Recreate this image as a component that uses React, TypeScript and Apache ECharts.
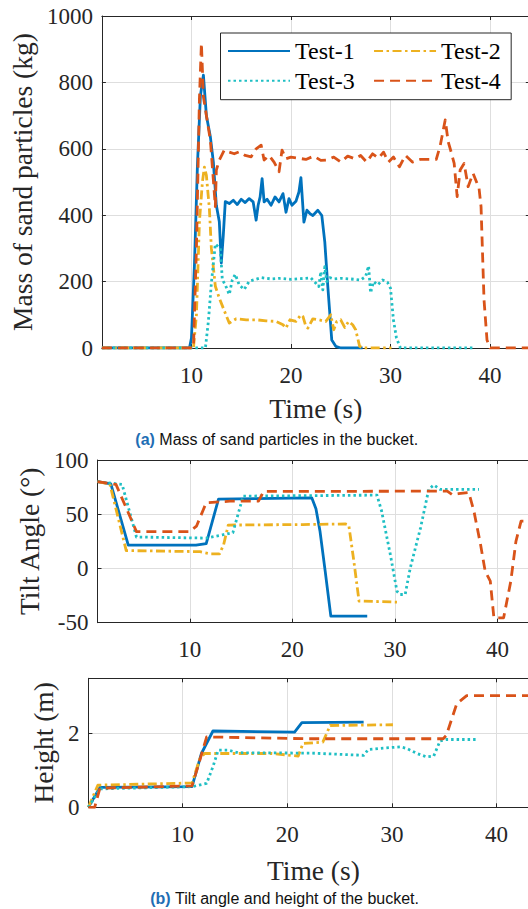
import React, { useEffect, useRef } from "react";
import * as echarts from "echarts";

// ---------- data ----------
const TIME_TICKS = [10, 20, 30, 40];
const MASS_TICKS = [0, 200, 400, 600, 800, 1000];
const TILT_TICKS = [-50, 0, 50, 100];
const HEIGHT_TICKS = [0, 2];
const SERIES_NAMES = ["Test-1", "Test-2", "Test-3", "Test-4"];

// (a) mass of sand particles (kg)
const M1_T = [1, 9.8, 10.0, 10.3, 10.6, 10.9, 11.2, 11.5, 11.9, 12.2, 12.5, 12.8, 13.0, 13.2, 13.4, 13.8, 14.2, 14.6, 15.0, 15.4, 15.8, 16.2, 16.5, 16.7, 16.9, 17.1, 17.3, 17.6, 18.0, 18.4, 18.8, 19.2, 19.5, 19.8, 20.1, 20.5, 20.8, 21.0, 21.3, 21.6, 21.9, 22.2, 22.7, 23.1, 23.4, 23.7, 24.1, 24.5, 25.0, 27.2];
const M1_V = [0, 0, 30, 250, 550, 760, 822, 700, 636, 560, 430, 380, 256, 340, 441, 435, 445, 432, 448, 438, 450, 440, 385, 430, 455, 510, 440, 448, 430, 455, 440, 465, 409, 450, 430, 442, 470, 513, 379, 415, 405, 399, 415, 399, 319, 186, 24, 5, 0, 0];

const M2_T = [1, 10.2, 10.5, 10.8, 11.1, 11.3, 11.5, 11.8, 12.0, 12.4, 12.8, 13.2, 13.8, 14.5, 15.5, 16.5, 17.5, 18.5, 19.2, 19.5, 19.9, 20.5, 21.0, 21.2, 21.5, 21.7, 22.2, 22.8, 23.5, 24.0, 24.3, 24.6, 25.0, 25.4, 25.8, 26.2, 26.5, 26.9, 27.2, 30.1];
const M2_V = [0, 0, 100, 380, 500, 545, 520, 420, 300, 186, 150, 120, 75, 88, 85, 85, 82, 80, 70, 60, 85, 80, 100, 95, 65, 60, 88, 85, 80, 100, 55, 80, 85, 62, 80, 70, 55, 5, 0, 0];

const M3_T = [1, 11.4, 11.7, 12.0, 12.4, 12.9, 13.1, 13.4, 13.8, 14.1, 14.4, 14.8, 15.3, 15.8, 17, 18, 19, 20, 21, 22, 22.5, 22.8, 23.0, 23.2, 23.4, 23.6, 23.9, 24.3, 25, 26, 27, 27.5, 27.8, 28.0, 28.3, 28.7, 29.2, 29.7, 30.0, 30.3, 30.6, 31.0, 38.3];
const M3_V = [0, 0, 80, 195, 313, 300, 206, 190, 161, 205, 222, 190, 176, 201, 212, 208, 210, 207, 209, 211, 195, 185, 230, 175, 245, 200, 212, 208, 210, 208, 205, 215, 247, 166, 200, 190, 205, 198, 180, 84, 30, 0, 0];

const M4_T = [1, 10.2, 10.5, 10.8, 11.0, 11.2, 11.5, 11.9, 12.2, 12.4, 12.5, 12.8, 13.3, 13.8, 14.3, 14.8, 15.4, 16.0, 16.5, 17.0, 17.3, 17.8, 18.3, 18.8, 19.1, 19.5, 20.0, 20.7, 21.5, 22.3, 23.0, 23.6, 24.3, 25.0, 25.7, 26.4, 27.0, 27.6, 28.2, 28.8, 29.3, 29.8, 30.3, 30.9, 31.5, 32.2, 33.0, 34.1, 34.6, 35.0, 35.5, 35.8, 36.1, 36.4, 36.7, 37.0, 37.4, 37.8, 38.3, 38.9, 39.1, 39.4, 39.7, 40.0, 44];
const M4_V = [0, 0, 300, 750, 918, 757, 700, 626, 506, 426, 536, 566, 596, 590, 585, 591, 580, 576, 600, 611, 566, 580, 560, 531, 596, 570, 575, 572, 568, 578, 565, 566, 575, 560, 578, 570, 580, 560, 585, 572, 590, 560, 575, 546, 580, 560, 568, 568, 568, 610, 687, 621, 590, 556, 456, 536, 556, 486, 526, 481, 426, 145, 24, 0, 0];

// (b) tilt angle (deg)
const A1_T = [1, 2.3, 4.0, 10.6, 11.6, 12.8, 21.9, 22.3, 22.7, 23.2, 23.75, 27.3];
const A1_V = [80, 78, 21.5, 21.5, 23, 64, 65, 55, 34, -2.5, -44, -44];
const A2_T = [1, 2.2, 3.8, 11.0, 12.0, 12.9, 13.3, 13.75, 21.0, 25.2, 25.5, 26.0, 26.5, 30.2];
const A2_V = [80, 78, 16.5, 15.5, 13.5, 13.5, 22, 40, 40.5, 41, 40, 6.5, -30, -31];
const A3_T = [1, 3.4, 4.8, 11.6, 13.2, 14.2, 15.2, 28.25, 28.7, 29.55, 30.2, 30.5, 31.0, 31.5, 32.5, 33.3, 33.8, 34.4, 38.2];
const A3_V = [80, 77.5, 29, 28, 31, 33, 66.7, 67.6, 53, 13, -21, -24, -24, 0.6, 37.5, 73, 77, 73, 73];
const A4_T = [1, 2.8, 4.8, 10.0, 10.65, 11.6, 13.9, 16.7, 17.2, 35.1, 35.6, 36.2, 37.2, 37.7, 38.35, 38.8, 39.3, 39.65, 40.6, 41.3, 41.8, 42.3, 44];
const A4_V = [80, 77.5, 34, 34, 39, 60.6, 62, 62, 71, 71.3, 68, 69, 70, 53, 22, -2.5, -11.7, -45.5, -45.5, -11.7, 25, 43.6, 43.6];

// (b) height (m)
const H1_T = [1, 2.1, 10.9, 11.8, 12.9, 20.7, 21.4, 27.3];
const H1_V = [0, 0.54, 0.56, 1.46, 2.07, 2.04, 2.3, 2.31];
const H2_T = [1, 1.9, 10.9, 11.65, 12.1, 18.5, 21.05, 21.5, 23.4, 24.1, 30.1];
const H2_V = [0, 0.6, 0.66, 1.32, 1.46, 1.46, 1.39, 1.73, 1.77, 2.22, 2.24];
const H3_T = [1, 2.1, 10.9, 12.3, 12.9, 13.4, 14.4, 15.3, 22.3, 27.3, 27.75, 28.9, 30.8, 31.4, 32.4, 33.3, 34.0, 34.6, 35.2, 38.25];
const H3_V = [0, 0.5, 0.56, 0.65, 1.1, 1.55, 1.55, 1.48, 1.47, 1.41, 1.57, 1.6, 1.64, 1.6, 1.46, 1.37, 1.39, 1.8, 1.84, 1.84];
const H4_T = [1, 1.6, 2.1, 10.9, 11.65, 12.3, 21.7, 34.9, 35.2, 36.2, 37.15, 44];
const H4_V = [0, 0, 0.52, 0.58, 1.28, 1.91, 1.86, 1.86, 1.95, 2.81, 3.03, 3.03];

// ---------- styling ----------
const COLORS = ["#0072BD", "#EDB120", "#1FBFC4", "#D95319"];
const DASHES: any[] = ["solid", [9, 3.5, 2.5, 3.5], [2.5, 3], [10, 6]];
const SERIF = "Liberation Serif";
const SANS = "Liberation Sans";
const AXIS_COLOR = "#262626";
const GRID_COLOR = "#dedede";

const pts = (t: number[], v: number[]) => t.map((x, i) => [x, v[i]]);
const plain = (v: number) => String(v);

export default function App() {
  const ref = useRef<HTMLDivElement>(null);

  useEffect(() => {
    if (!ref.current) return;
    const chart = echarts.init(ref.current, undefined, { renderer: "svg" });

    const grids = [
      { left: 101.8, top: 16, width: 428, height: 332 },
      { left: 97.5, top: 460, width: 441, height: 162.7 },
      { left: 88.4, top: 678.3, width: 450, height: 129 },
    ];

    const labelStyle = (margin: number, ticks: number[]) => ({
      show: true,
      customValues: ticks,
      formatter: plain,
      fontFamily: SERIF,
      fontSize: 23,
      color: AXIS_COLOR,
      margin,
    });
    const nameStyle = { fontFamily: SERIF, fontSize: 27.5, fontWeight: "normal", color: AXIS_COLOR };

    const xMain = (gi: number, name: string, nameGap: number, margin: number) => ({
      type: "value",
      gridIndex: gi,
      position: "bottom",
      min: 1,
      max: 44,
      name,
      nameLocation: "middle",
      nameGap,
      nameTextStyle: nameStyle,
      axisLine: { show: true, onZero: false, lineStyle: { color: AXIS_COLOR, width: 1 } },
      axisTick: { show: true, inside: true, length: 4, customValues: TIME_TICKS, lineStyle: { color: AXIS_COLOR } },
      axisLabel: labelStyle(margin, TIME_TICKS),
      splitLine: { show: true, lineStyle: { color: GRID_COLOR, width: 1 } },
    });
    const xTop = (gi: number) => ({
      type: "value",
      gridIndex: gi,
      position: "top",
      min: 1,
      max: 44,
      axisLine: { show: true, onZero: false, lineStyle: { color: AXIS_COLOR, width: 1 } },
      axisTick: { show: true, inside: true, length: 4, customValues: TIME_TICKS, lineStyle: { color: AXIS_COLOR } },
      axisLabel: { show: false },
      splitLine: { show: false },
    });
    const yMain = (gi: number, name: string, nameGap: number, min: number, max: number, ticks: number[]) => ({
      type: "value",
      gridIndex: gi,
      position: "left",
      min,
      max,
      name,
      nameLocation: "middle",
      nameGap,
      nameTextStyle: nameStyle,
      axisLine: { show: true, onZero: false, lineStyle: { color: AXIS_COLOR, width: 1 } },
      axisTick: { show: true, inside: true, length: 4, customValues: ticks, lineStyle: { color: AXIS_COLOR } },
      axisLabel: labelStyle(9, ticks),
      splitLine: { show: true, lineStyle: { color: GRID_COLOR, width: 1 } },
    });
    const yRight = (gi: number, min: number, max: number, ticks: number[]) => ({
      type: "value",
      gridIndex: gi,
      position: "right",
      min,
      max,
      axisLine: { show: true, onZero: false, lineStyle: { color: AXIS_COLOR, width: 1 } },
      axisTick: { show: true, inside: true, length: 4, customValues: ticks, lineStyle: { color: AXIS_COLOR } },
      axisLabel: { show: false },
      splitLine: { show: false },
    });

    const groups = [
      { axis: 0, data: [pts(M1_T, M1_V), pts(M2_T, M2_V), pts(M3_T, M3_V), pts(M4_T, M4_V)] },
      { axis: 2, data: [pts(A1_T, A1_V), pts(A2_T, A2_V), pts(A3_T, A3_V), pts(A4_T, A4_V)] },
      { axis: 4, data: [pts(H1_T, H1_V), pts(H2_T, H2_V), pts(H3_T, H3_V), pts(H4_T, H4_V)] },
    ];

    const series: any[] = [];
    groups.forEach((g) => {
      g.data.forEach((d, i) => {
        series.push({
          type: "line",
          name: SERIES_NAMES[i],
          xAxisIndex: g.axis,
          yAxisIndex: g.axis,
          data: d,
          symbol: "none",
          showSymbol: false,
          clip: true,
          color: COLORS[i],
          lineStyle: { color: COLORS[i], width: 2.8, type: DASHES[i], cap: "butt", join: "round" },
        });
      });
    });

    const legendText = { fontFamily: SERIF, fontSize: 24, fontWeight: "normal", color: "#000", lineHeight: 24 };
    const legendCommon = {
      orient: "horizontal",
      itemGap: 18.4,
      itemWidth: 62,
      itemHeight: 14,
      textStyle: legendText,
      selectedMode: false,
      itemStyle: { opacity: 0 },
    };

    chart.setOption({
      animation: false,
      backgroundColor: "#fff",
      grid: grids,
      xAxis: [
        xMain(0, "Time (s)", 46, 16),
        xTop(0),
        xMain(1, "", 0, 15),
        xTop(1),
        xMain(2, "Time (s)", 49, 16),
        xTop(2),
      ],
      yAxis: [
        yMain(0, "Mass of sand particles (kg)", 64, 0, 1000, MASS_TICKS),
        yRight(0, 0, 1000, MASS_TICKS),
        yMain(1, "Tilt Angle (°)", 53, -50, 100, TILT_TICKS),
        yRight(1, -50, 100, TILT_TICKS),
        yMain(2, "Height (m)", 28, 0, 3.5, HEIGHT_TICKS),
        yRight(2, 0, 3.5, HEIGHT_TICKS),
      ],
      legend: [
        {
          ...legendCommon,
          data: ["Test-1", "Test-2"],
          left: 220.5,
          top: 33,
          padding: [6, 10.5, 36.7, 6.5],
          backgroundColor: "#fff",
          borderColor: AXIS_COLOR,
          borderWidth: 1,
          borderRadius: 0,
          z: 5,
        },
        {
          ...legendCommon,
          data: ["Test-3", "Test-4"],
          left: 227,
          top: 68.8,
          padding: 0,
          z: 6,
        },
      ],
      graphic: [
        {
          type: "text",
          x: 276.7,
          y: 439,
          style: {
            text: "{a|(a)} Mass of sand particles in the bucket.",
            fontFamily: SANS,
            fontSize: 16,
            fill: "#111",
            align: "center",
            verticalAlign: "middle",
            rich: { a: { fontFamily: SANS, fontSize: 16, fontWeight: "bold", fill: "#1F6EB4" } },
          },
        },
        {
          type: "text",
          x: 284.7,
          y: 898,
          style: {
            text: "{a|(b)} Tilt angle and height of the bucket.",
            fontFamily: SANS,
            fontSize: 16,
            fill: "#111",
            align: "center",
            verticalAlign: "middle",
            rich: { a: { fontFamily: SANS, fontSize: 16, fontWeight: "bold", fill: "#1F6EB4" } },
          },
        },
      ],
      series,
    });

    return () => chart.dispose();
  }, []);

  return (
    <div style={{ position: "absolute", left: 0, top: 0, width: 528, height: 909, overflow: "hidden", background: "#fff" }}>
      <div ref={ref} style={{ width: 560, height: 909 }} />
    </div>
  );
}
